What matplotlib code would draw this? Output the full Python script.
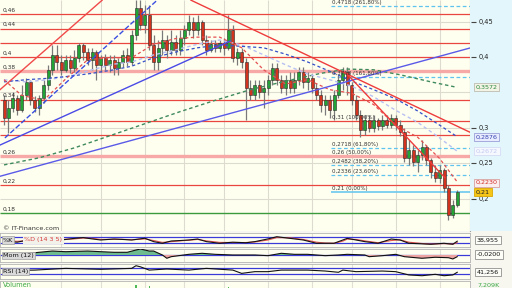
import numpy as np
import matplotlib.pyplot as plt

# daily candles (prices)
opens = [.339, .314, .328, .342, .325, .346, .365, .339, .328, .342,
         .361, .382, .403, .393, .382, .396, .384, .399, .417, .407,
         .396, .407, .389, .399, .389, .396, .384, .393, .403, .393,
         .431, .469, .445, .459, .417, .393, .413, .424, .410, .421,
         .410, .427, .438, .450, .438, .450, .424, .410, .419, .413,
         .420, .413, .438, .399, .407, .393, .356, .346, .361, .351,
         .356, .368, .384, .368, .356, .368, .356, .368, .379, .365,
         .370, .356, .346, .332, .339, .325, .346, .368, .379, .361,
         .339, .318, .297, .311, .300, .311, .303, .311, .304, .314,
         .304, .294, .258, .269, .252, .262, .273, .255, .238, .230,
         .241, .215, .177, .192]
closes = [.314, .328, .342, .325, .346, .365, .339, .328, .342, .361,
          .382, .403, .393, .382, .396, .384, .399, .417, .407, .396,
          .407, .389, .399, .389, .396, .384, .393, .403, .393, .431,
          .469, .445, .459, .417, .393, .413, .424, .410, .421, .410,
          .427, .438, .450, .438, .450, .424, .410, .419, .413, .420,
          .413, .438, .399, .407, .393, .356, .346, .361, .351, .356,
          .368, .384, .368, .356, .368, .356, .368, .379, .365, .370,
          .356, .346, .332, .339, .325, .346, .368, .379, .361, .339,
          .318, .297, .311, .300, .311, .303, .311, .304, .314, .304,
          .294, .258, .269, .252, .262, .273, .255, .238, .230, .241,
          .215, .177, .192, .210]
highs = [.346, .339, .351, .346, .361, .370, .368, .345, .346, .368,
         .389, .417, .417, .403, .403, .403, .410, .420, .420, .413,
         .413, .410, .403, .404, .403, .403, .399, .410, .413, .438,
         .480, .480, .473, .473, .431, .424, .438, .431, .438, .431,
         .438, .445, .459, .456, .459, .452, .431, .424, .424, .424,
         .427, .459, .445, .413, .413, .399, .368, .368, .368, .368,
         .375, .391, .391, .375, .375, .379, .379, .386, .386, .379,
         .375, .363, .354, .346, .346, .354, .375, .386, .386, .365,
         .346, .325, .318, .318, .318, .314, .318, .318, .320, .318,
         .311, .300, .283, .276, .269, .283, .276, .258, .248, .248,
         .244, .220, .199, .213]
lows = [.304, .293, .322, .318, .322, .339, .332, .322, .318, .335,
        .354, .375, .382, .375, .379, .377, .379, .393, .396, .389,
        .382, .368, .379, .382, .379, .375, .375, .386, .387, .389,
        .424, .438, .434, .410, .382, .382, .403, .399, .403, .403,
        .403, .417, .431, .427, .431, .417, .403, .407, .407, .407,
        .403, .410, .393, .389, .384, .311, .339, .339, .342, .328,
        .346, .361, .361, .349, .346, .349, .349, .361, .356, .354,
        .349, .339, .322, .318, .314, .311, .342, .354, .346, .332,
        .311, .287, .290, .294, .294, .297, .297, .300, .300, .297,
        .289, .252, .248, .246, .238, .255, .248, .230, .224, .222,
        .210, .170, .173, .189]
volume = [6, 5, 7, 4, 6, 8, 5, 4, 6, 7, 9, 11, 6, 5, 4, 5, 6, 8, 5, 4,
          5, 6, 4, 5, 4, 5, 4, 6, 5, 12, 22, 17, 10, 20, 9, 16, 7, 6, 5, 6,
          8, 9, 11, 7, 8, 10, 6, 5, 4, 5, 6, 18, 11, 7, 6, 12, 8, 6, 5, 7,
          6, 9, 7, 5, 4, 5, 6, 7, 5, 4, 5, 6, 8, 6, 7, 9, 10, 8, 7, 8,
          9, 10, 6, 5, 4, 5, 4, 5, 6, 5, 7, 12, 9, 8, 7, 8, 7, 9, 8, 7,
          10, 13, 9, 8]

# moving averages (candle index, price)
ma_red_idx = [0, 4, 9, 14, 19, 24, 29, 34, 39, 44, 49, 54, 59, 64, 69, 74, 79, 84, 89, 94, 99, 103]
ma_red = [.368, .346, .339, .369, .396, .399, .399, .418, .426, .428, .428, .413, .382, .362,
          .368, .354, .349, .333, .304, .287, .257, .224]
ma_blue_idx = [0, 5, 10, 15, 20, 25, 29, 34, 39, 44, 49, 54, 59, 64, 69, 74, 79, 84, 89, 94, 99, 103]
ma_blue = [.365, .368, .370, .373, .377, .382, .387, .399, .407, .413, .417, .415, .413, .404,
           .393, .380, .366, .354, .341, .324, .304, .2876]
ma_lav = [.368, .365, .368, .373, .382, .390, .393, .403, .410, .418, .424, .417, .403, .389,
          .376, .368, .359, .344, .325, .308, .286, .2672]
ma_green_idx = [0, 8, 16, 24, 32, 40, 48, 56, 64, 72, 78, 84, 90, 97, 103]
ma_green = [.248, .258, .272, .289, .306, .323, .339, .354, .366, .377, .383, .382, .375, .365, .3572]

# trendlines: start/end as (candle index, price)
trend_x = [[-0.9, 22.3], [0.2, 34.8], [-0.9, 51.4], [-0.9, 105.9], [42.5, 105.9], [77.5, 100.2]]
trend_y = [[.354, .480], [.286, .480], [.276, .4225], [.232, .4127], [.480, .294], [.379, .230]]
trend_col = ['#f04a4a', '#3a4ee0', '#4a4ae6', '#5a5ae8', '#ee3c3c', '#ee3c3c']
trend_ls = ['-', '--', '-', '-', '-', '-']

red_levels = [.46, .44, .42, .40, .34, .31, .29, .22]
pink_levels = [.38, .26]
green_level = .18
left_labels = [.46, .44, .40, .38, .34, .26, .22, .18]
axis_ticks = [.45, .40, .30, .25, .20]
grid_prices = [.45, .40, .35, .30, .25, .20]
month_idx = [13, 22, 32, 41, 50, 60, 70, 79, 89, 99]

fib_levels = [.4718, .3718, .31, .2718, .26, .2482, .2336, .21]
fib_pct = ['261,80%', '161,80%', '100,00%', '61,80%', '50,00%', '38,20%', '23,60%', '0,00%']
fib_start = 74.3

# indicators (candle index, value)
stoch_idx = [0, 3, 6, 9, 13, 16, 18, 20, 22, 25, 27, 29, 32, 34, 36, 38, 40, 42, 44, 46,
             49, 52, 55, 57, 60, 62, 65, 68, 71, 73, 75, 77, 78, 80, 82, 85, 88, 90, 92, 95,
             97, 100, 102, 103]
stoch_k = [40, 30, 55, 60, 50, 65, 72, 60, 50, 59, 55, 50, 66, 35, 20, 41, 45, 50, 59, 35,
           20, 30, 25, 35, 60, 80, 65, 50, 20, 20, 20, 50, 65, 50, 35, 20, 59, 50, 20, 15,
           11, 20, 11, 39]
stoch_d = [45, 38, 45, 55, 55, 60, 68, 65, 55, 56, 56, 52, 60, 45, 28, 35, 42, 48, 55, 42,
           28, 27, 27, 32, 50, 72, 70, 55, 30, 22, 20, 40, 58, 55, 42, 25, 45, 52, 30, 18,
           13, 17, 13, 25]
mom_idx = [0, 4, 8, 11, 14, 19, 22, 25, 28, 30, 31, 33, 34, 36, 37, 38, 42, 45, 48, 52,
           57, 60, 63, 66, 69, 73, 76, 78, 82, 83, 86, 89, 91, 95, 98, 101, 102, 103]
mom = [-0.01, 0.01, 0.032, 0.047, 0.039, 0.047, 0.039, 0.032, 0.032, 0.059,
       0.071, 0.047, 0.047, 0.0, -0.039, -0.02, 0.008, 0.02, 0.008, 0.0,
       0.0, -0.008, 0.02, 0.008, 0.008, -0.008, 0.0, 0.008, 0.0, -0.02,
       -0.008, 0.008, -0.02, -0.039, -0.027, -0.032, -0.047, -0.02]
rsi_idx = [0, 7, 14, 22, 29, 30, 31, 33, 37, 42, 46, 52, 54, 57, 60, 63, 69, 73, 76, 77,
           80, 86, 89, 92, 95, 98, 100, 102, 103]
rsi = [52, 55, 66, 60, 66, 83, 76, 55, 62, 55, 66, 55, 34, 45, 45, 55, 55, 49, 41, 55,
       45, 49, 45, 24, 19, 28, 19, 24, 41]

W, H = 512, 288
XLIM = (-0.91, 105.9)
CREAM = '#fffff0'


def frame(x0, y0, x1, y1):
    return [x0 / W, 1 - y1 / H, (x1 - x0) / W, (y1 - y0) / H]


def fmt(v):
    return f"{v:g}".replace('.', ',')


fig = plt.figure(figsize=(W / 100, H / 100), dpi=100)
fig.patch.set_facecolor('#f7f7ef')

# main price panel
ax = fig.add_axes(frame(0, 0, 470, 231))
ax.set_facecolor(CREAM)
ax.set_xlim(*XLIM)
ax.set_ylim(0.1549, 0.4803)
ax.set_xticks([])
ax.set_yticks([])
for s in ax.spines.values():
    s.set_visible(False)
ax.spines['right'].set_visible(True)
ax.spines['right'].set_color('#a0a0a0')

ax.hlines(grid_prices, *XLIM, color='#dddbd0', lw=0.8, zorder=0)
ax.vlines(month_idx, 0.1549, 0.4803, color='#dddbd0', lw=0.8, zorder=0)
ax.hlines(red_levels, *XLIM, color='#e8463f', lw=0.9, zorder=1)
ax.hlines(pink_levels, *XLIM, color='#f6a9a6', lw=2.4, zorder=1)
ax.hlines(green_level, *XLIM, color='#3b9a3b', lw=1.0, zorder=1)

for v in left_labels:
    ax.text(-0.3, v + 0.002, fmt(v), fontsize=4.2, color='#333333', va='bottom', ha='left', zorder=6)

# fibonacci retracement
for lvl, pct in zip(fib_levels, fib_pct):
    if lvl == .21:
        ax.hlines(lvl, fib_start, XLIM[1], color='#5ec4ef', lw=1.1, zorder=2)
    elif lvl not in (.31, .26):
        ax.hlines(lvl, fib_start, XLIM[1], color='#5ec4ef', lw=0.9, linestyles=(0, (3, 2)), zorder=2)
    ax.text(fib_start + 0.3, lvl + 0.0015, f"{fmt(lvl)} ({pct})", fontsize=4.0,
            color='#333333', va='bottom', ha='left', zorder=6)

# candles
idx = np.arange(len(closes))
o = np.array(opens)
c = np.array(closes)
up = c >= o
cols = np.where(up, '#22a336', '#d2331f')
ax.vlines(idx, lows, highs, color='#7a7a7a', lw=0.9, zorder=3)
ax.bar(idx, np.maximum(np.abs(c - o), 0.0015), bottom=np.minimum(o, c), width=0.68,
       color=cols, edgecolor='#2a2a2a', linewidth=0.4, zorder=3)

# moving averages
ax.plot(ma_green_idx, ma_green, color='#3f8a5c', lw=1.0, ls=(0, (2.5, 2)), zorder=4)
ax.plot(ma_blue_idx, ma_lav, color='#b7c0f2', lw=1.0, ls=(0, (2.5, 2)), zorder=4)
ax.plot(ma_blue_idx, ma_blue, color='#3550c8', lw=0.9, ls=(0, (2.5, 2)), zorder=4)
ax.plot(ma_red_idx, ma_red, color='#e45050', lw=0.9, ls=(0, (2.5, 2)), zorder=4)

for xs, ys, col, ls in zip(trend_x, trend_y, trend_col, trend_ls):
    ax.plot(xs, ys, color=col, lw=1.0, ls=ls, zorder=4)

fig.text(3 / W, 1 - 228 / H, '\u00a9 IT-Finance.com', fontsize=4.6, color='#333333', va='center')

# right price scale
axr = fig.add_axes(frame(470, 0, 512, 231))
axr.set_facecolor('#e3f6fb')
axr.set_xlim(0, 1)
axr.set_ylim(0.1549, 0.4803)
axr.set_xticks([])
axr.set_yticks([])
for s in axr.spines.values():
    s.set_visible(False)
axr.hlines(axis_ticks, 0.03, 0.15, color='#444444', lw=0.8)
for v in axis_ticks:
    axr.text(0.2, v, fmt(v), fontsize=4.8, color='#222222', va='center', ha='left')

boxes = [(0.3572, '0,3572', '#2b8a3e', '#f3f3e6', '#bdbdb0'),
         (0.2876, '0,2876', '#3445b0', '#e9ebff', '#9aa0d8'),
         (0.2672, '0,2672', '#c3c9f0', '#f6f8ff', '#d6dbf4'),
         (0.2230, '0,2230', '#d2302a', '#fbeeee', '#d8a0a0'),
         (0.21, '0,21', '#222222', '#f5c518', '#d9a800')]
for v, txt, tc, fc, ec in boxes:
    axr.text(0.14, v, txt, fontsize=4.6, color=tc, va='center', ha='left',
             bbox=dict(boxstyle='square,pad=0.25', fc=fc, ec=ec, lw=0.6))


def sub_panel(y0, y1, ylim):
    a = fig.add_axes(frame(0, y0, 470, y1))
    a.set_facecolor(CREAM)
    a.set_xlim(*XLIM)
    a.set_ylim(*ylim)
    a.set_xticks([])
    a.set_yticks([])
    for s in a.spines.values():
        s.set_color('#b4b4b4')
        s.set_linewidth(0.6)
    a.vlines(month_idx, *ylim, color='#e2e0d6', lw=0.8, zorder=0)
    return a


def label_box(a, x, txt, color='#111111', fc='#d9d9d9'):
    a.text(x, 0.5, txt, transform=a.transAxes, fontsize=4.6, color=color, va='center',
           ha='left', zorder=6, bbox=dict(boxstyle='square,pad=0.2', fc=fc, ec='#a0a0a0', lw=0.5))


def value_box(py, txt, color='#111111'):
    fig.text(477 / W, 1 - py / H, txt, fontsize=4.6, color=color, va='center', ha='left',
             bbox=dict(boxstyle='square,pad=0.25', fc='#fdfdf8', ec='#909090', lw=0.6))


# stochastic
axk = sub_panel(233, 247, (-14, 114))
axk.hlines([20, 80], *XLIM, color='#3a3ad8', lw=0.9, zorder=1)
axk.plot(stoch_idx, stoch_d, color='#e05050', lw=0.8, zorder=2)
axk.plot(stoch_idx, stoch_k, color='#111111', lw=0.8, zorder=3)
label_box(axk, 0.006, '%K')
axk.text(0.052, 0.5, '%D (14 3 5)', transform=axk.transAxes, fontsize=4.6, color='#d83a3a',
         va='center', ha='left', zorder=6,
         bbox=dict(boxstyle='square,pad=0.2', fc='#f2f2ea', ec='none'))
value_box(240, '38,955')

# momentum
axm = sub_panel(249, 262, (-0.083, 0.071))
axm.hlines(0, *XLIM, color='#3a3ad8', lw=0.9, zorder=1)
mom_arr = np.array(mom)
axm.fill_between(mom_idx, mom_arr, 0, where=mom_arr >= 0, color='#6dbb8e', lw=0, interpolate=True, zorder=2)
axm.fill_between(mom_idx, mom_arr, 0, where=mom_arr <= 0, color='#eea3a3', lw=0, interpolate=True, zorder=2)
axm.plot(mom_idx, mom, color='#111111', lw=0.8, zorder=3)
label_box(axm, 0.006, 'Mom (12)')
value_box(254.5, '-0,0200')

# rsi
axs = sub_panel(264, 279, (-2, 94))
axs.hlines([30, 70], *XLIM, color='#3a3ad8', lw=0.9, zorder=1)
axs.plot(rsi_idx, rsi, color='#111111', lw=0.8, zorder=3)
label_box(axs, 0.006, 'RSI (14)')
value_box(272, '41,256')

# volume
axv = sub_panel(281, 296, (0, 30))
axv.bar(idx, volume, width=0.3, color='#4cb856', zorder=2)
axv.text(0.006, 0.73, 'Volumen', transform=axv.transAxes, fontsize=4.8, color='#3aa845',
         va='center', ha='left', zorder=6)
fig.text(477 / W, 1 - 285 / H, '7,209K', fontsize=4.6, color='#3aa845', va='center', ha='left')

fig.savefig('out.png', dpi=100, facecolor=fig.get_facecolor())
